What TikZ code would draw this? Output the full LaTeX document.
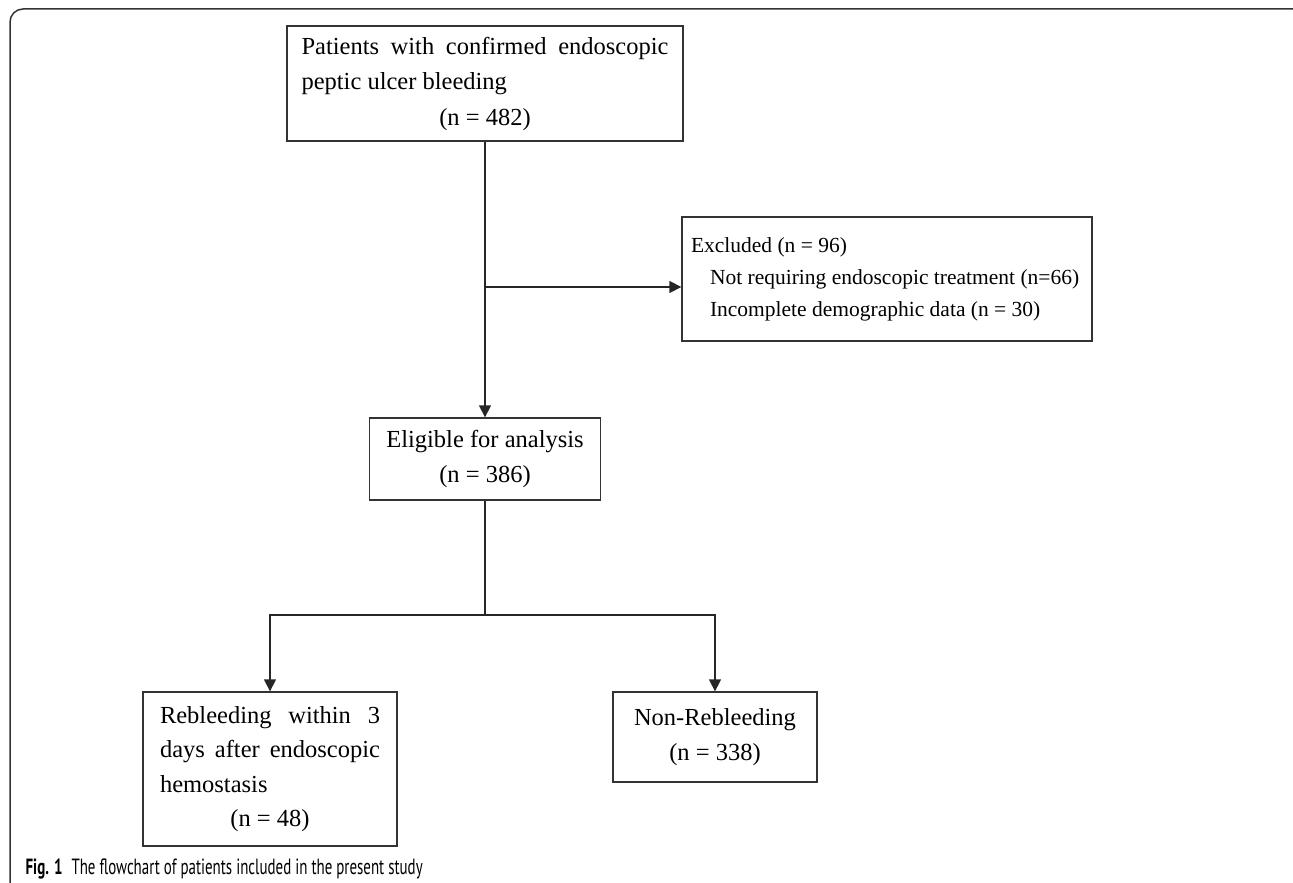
\documentclass[tikz,border=0pt]{standalone}
\usepackage{fontspec}
\setmainfont{Liberation Serif}
\newfontfamily\capfont{PT Sans}[FakeStretch=0.68]
\usepackage{tikz}
\usetikzlibrary{positioning}
\usetikzlibrary{arrows.meta}

\begin{document}
\begin{tikzpicture}[x=1pt,y=-1pt,>={Triangle[length=12pt,width=12pt]},
	line width=1.3pt,draw=black!85,
	flow box/.style={rectangle,draw=black!80,line width=1.3pt,inner sep=0pt,
		font=\fontsize{24.5}{34.5}\selectfont},
	small box/.style={flow box,font=\fontsize{21.5}{32}\selectfont}]
	
	\useasboundingbox (0,0) rectangle (1293,883);
	\begin{scope}
		\clip (0,0) rectangle (1293,883);
		\draw[black!80,line width=1.5pt,rounded corners=13pt] (10,900) -- (10,9) -- (1306,9) -- (1306,40);
	\end{scope}
	
	\node[flow box,minimum width=396pt,minimum height=115pt,text width=367pt,align=flush left,
		font=\fontsize{24.5}{35.5}\selectfont] (patients) at (485,83.5)
	{\makebox[\hsize][s]{Patients with confirmed endoscopic}\\ peptic ulcer bleeding\\ \makebox[\hsize]{(n = 482)}};
	\node[small box,minimum width=410pt,minimum height=124pt,text width=392pt,align=flush left] (excl) at (887,279)
	{Excluded (n = 96)\\ \hspace*{19pt}Not requiring endoscopic treatment (n=66)\\ \hspace*{19pt}Incomplete demographic data (n = 30)};
	\node[flow box,minimum width=231pt,minimum height=82pt,align=flush center] (elig) [below of=patients,node distance=375.5pt]
	{Eligible for analysis\\ (n = 386)};
	\node[flow box,minimum width=254pt,minimum height=154pt,text width=220pt,align=flush left] (reb) at (270,769)
	{\makebox[\hsize][s]{Rebleeding within 3}\\ \makebox[\hsize][s]{days after endoscopic}\\ hemostasis\\ \makebox[\hsize]{(n = 48)}};
	\node[flow box,minimum width=204pt,minimum height=90pt,align=flush center] (nonreb) at (715,737)
	{Non-Rebleeding\\ (n = 338)};
	\node[anchor=base west,inner sep=0pt,font=\capfont\fontsize{22}{24}\selectfont] (caption) at (25,874)
	{\textbf{Fig. 1}\hspace{9pt}The flowchart of patients included in the present study};
	
	\coordinate (split) at (patients.south |- 0,287);
	\coordinate (fork) at (elig.south |- 0,615);
	
	\draw[->] (patients) -- (elig);
	\draw[->] (split) -- (split -| excl.west);
	\draw (elig) -- (fork);
	\draw[->] (fork) -| (reb);
	\draw[->] (fork) -| (nonreb);
\end{tikzpicture}
\end{document}
